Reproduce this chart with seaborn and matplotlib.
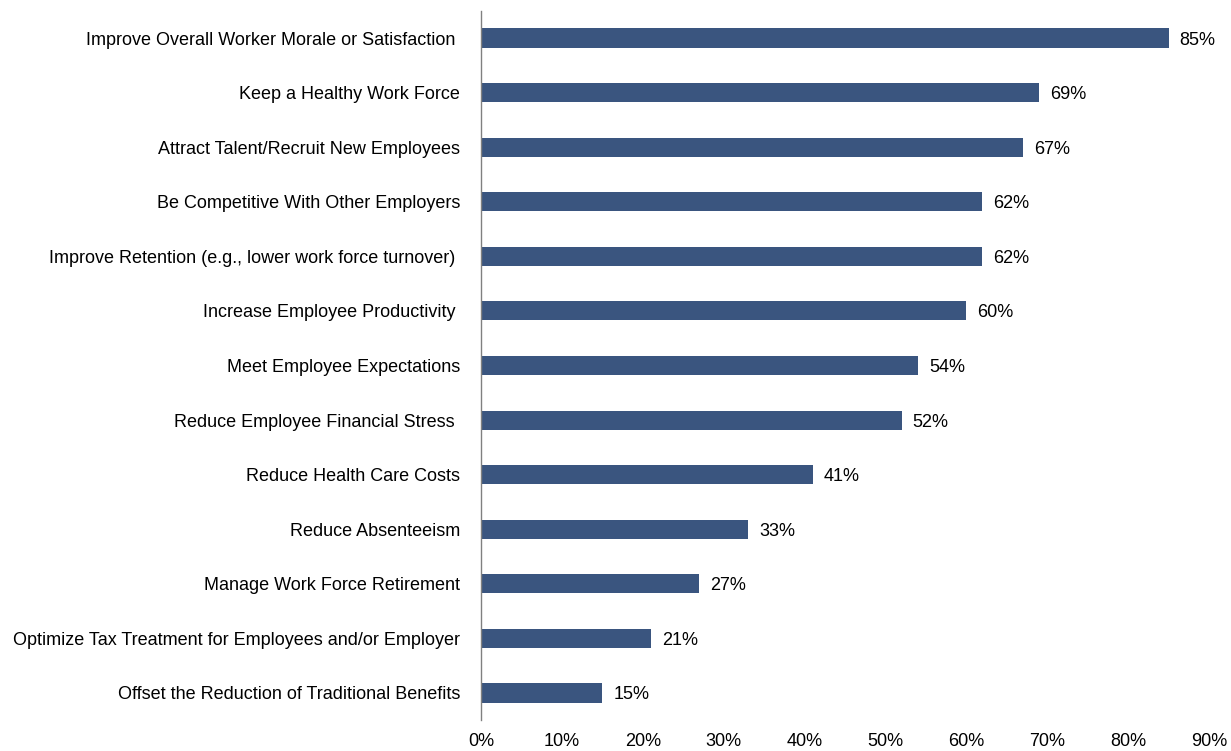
import matplotlib
matplotlib.use("Agg")
import matplotlib.pyplot as plt
import seaborn as sns
import pandas as pd
from matplotlib.ticker import FuncFormatter

categories = [
    "Improve Overall Worker Morale or Satisfaction ",
    "Keep a Healthy Work Force",
    "Attract Talent/Recruit New Employees",
    "Be Competitive With Other Employers",
    "Improve Retention (e.g., lower work force turnover) ",
    "Increase Employee Productivity ",
    "Meet Employee Expectations",
    "Reduce Employee Financial Stress ",
    "Reduce Health Care Costs",
    "Reduce Absenteeism",
    "Manage Work Force Retirement",
    "Optimize Tax Treatment for Employees and/or Employer",
    "Offset the Reduction of Traditional Benefits",
]
values = [85, 69, 67, 62, 62, 60, 54, 52, 41, 33, 27, 21, 15]
x_ticks = [0, 10, 20, 30, 40, 50, 60, 70, 80, 90]

df = pd.DataFrame({"reason": categories, "pct": values})

sns.set_theme(style="white")
plt.rcParams["font.family"] = ["Liberation Sans", "DejaVu Sans"]

fig = plt.figure(figsize=(12.31, 7.51), dpi=100)
ax = fig.add_axes([0.3907, 0.0409, 0.9821 - 0.3907, 0.9857 - 0.0409])

sns.barplot(data=df, x="pct", y="reason", orient="h", color="#3A557F",
            saturation=1, width=0.35, linewidth=0, ax=ax)

ax.set_xlim(0, 90)
ax.set_ylim(len(categories) - 0.5, -0.5)
ax.set_xticks(x_ticks)
ax.xaxis.set_major_formatter(FuncFormatter(lambda v, p: f"{v:.0f}%"))
ax.set_xlabel("")
ax.set_ylabel("")

for i, v in enumerate(values):
    ax.annotate(f"{v}%", xy=(v, i), xytext=(8, 0), textcoords="offset points",
                va="center_baseline", ha="left", fontsize=13, color="#000000")

for s in ["top", "right", "bottom"]:
    ax.spines[s].set_visible(False)
ax.spines["left"].set_color("#808080")
ax.spines["left"].set_linewidth(1)

ax.tick_params(axis="y", length=0, pad=15, labelsize=13, labelcolor="#000000")
ax.tick_params(axis="x", length=0, pad=9, labelsize=13, labelcolor="#000000")

fig.savefig("out.png", dpi=100)
